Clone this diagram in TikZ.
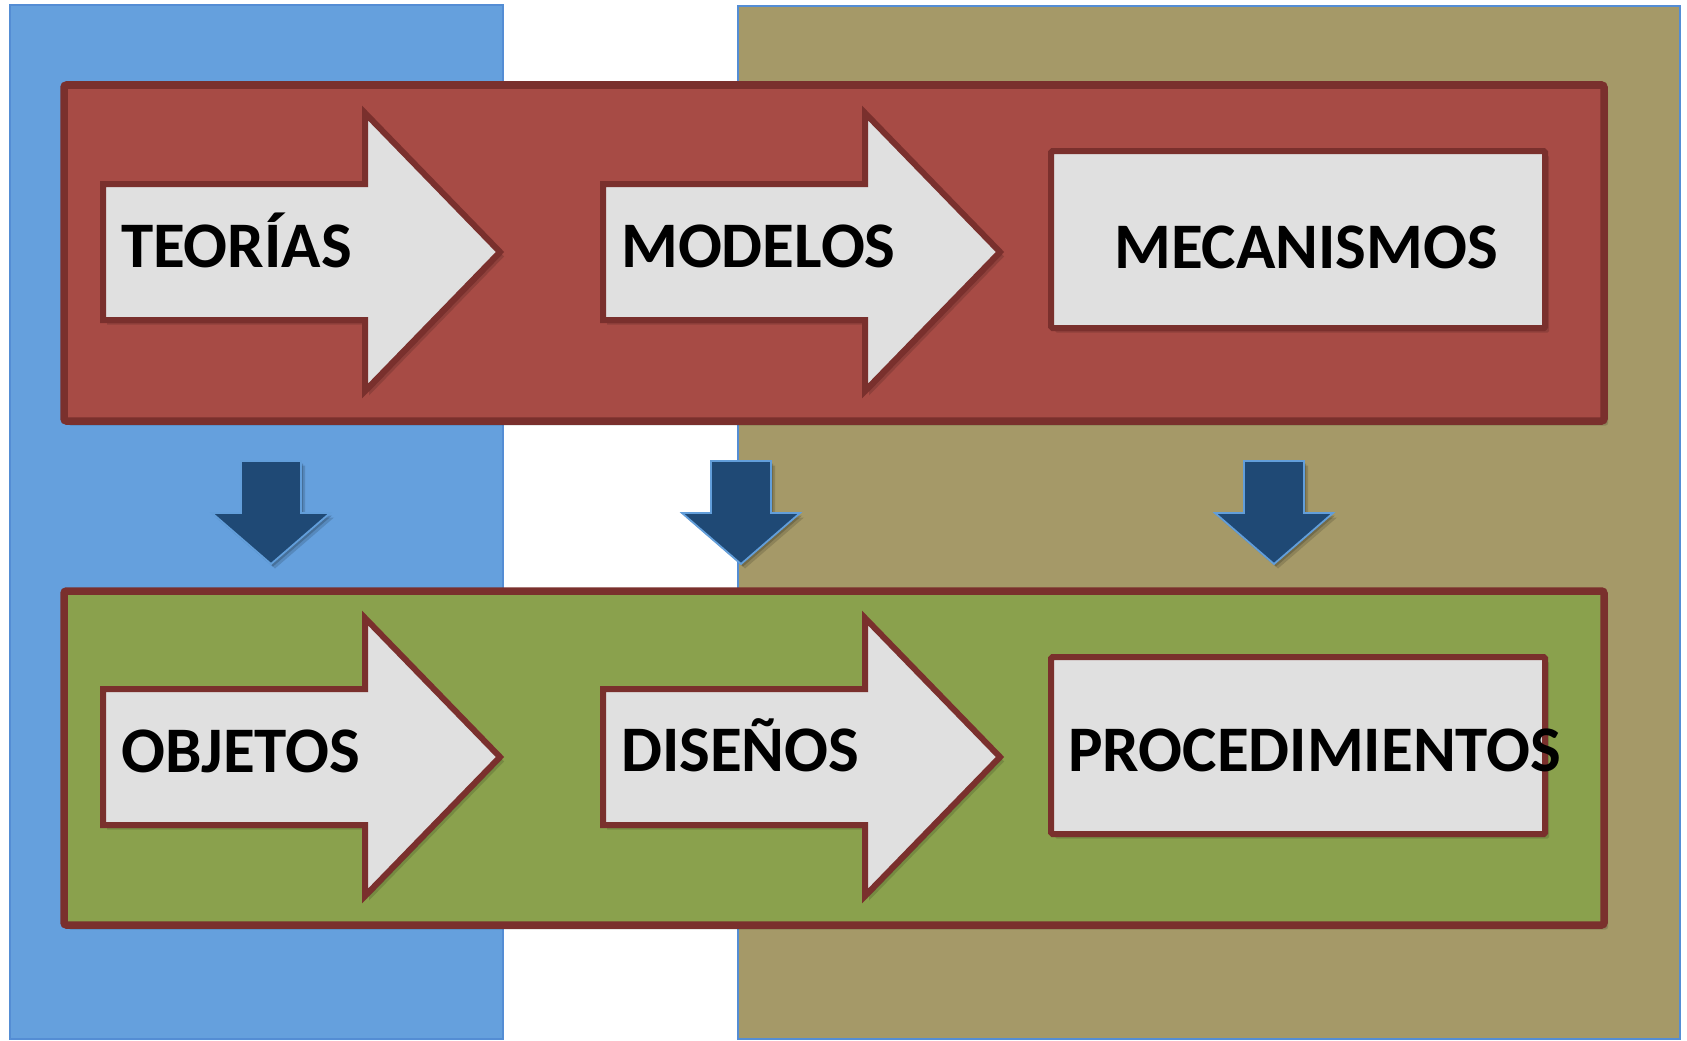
\documentclass[tikz,border=0pt]{standalone}
\usepackage{fontspec}
\setmainfont{Carlito}
\definecolor{bgblue}{RGB}{101,160,221}
\definecolor{bgblueline}{RGB}{84,141,212}
\definecolor{khaki}{RGB}{165,153,104}
\definecolor{redfill}{RGB}{167,75,69}
\definecolor{redline}{RGB}{122,48,45}
\definecolor{greenfill}{RGB}{138,161,77}
\definecolor{boxgray}{RGB}{224,224,224}
\definecolor{darkblue}{RGB}{31,73,117}
\definecolor{arrowline}{RGB}{98,158,218}
\begin{document}
\begin{tikzpicture}[x=1pt,y=-1pt,
  softshadow/.style={
    preaction={fill=black,opacity=0.14,transform canvas={shift={(4pt,-4.5pt)}}},
    preaction={fill=black,opacity=0.18,transform canvas={shift={(2pt,-2.5pt)}}}},
  panel/.style={draw=redline,line width=7.5pt,rounded corners=2.5pt,softshadow,
    inner sep=0pt,minimum width=1540pt},
  textbox/.style={draw=redline,line width=6pt,fill=boxgray,rounded corners=1.5pt,
    softshadow,inner sep=0pt,minimum width=494pt,minimum height=177pt},
  label/.style={anchor=base west,inner sep=0pt,text=black,
    font=\fontsize{65}{78}\selectfont\bfseries},
  rblock/.pic={
    \draw[draw=redline,line width=6pt,fill=boxgray,line join=miter,softshadow]
      (0,-68) -- (262,-68) -- (262,-139) -- (397,0) -- (262,139) -- (262,68)
      -- (0,68) -- cycle;},
  dblock/.pic={
    \draw[draw=arrowline,line width=1.8pt,fill=darkblue,line join=miter,softshadow]
      (-30,0) -- (30,0) -- (30,52) -- (59,52) -- (0,103) -- (-59,52)
      -- (-30,52) -- cycle;}
]
\useasboundingbox (0,0) rectangle (1687,1041);
\fill[white] (0,0) rectangle (1687,1041);

% background columns
\path[fill=bgblue,draw=bgblueline,line width=1.2pt] (10,5) rectangle (503,1039);
\path[fill=khaki,draw=bgblueline,line width=1.2pt] (738,6) rectangle (1680,1039);

% panels
\node[panel,fill=redfill,minimum height=336pt] (toppanel) at (834,253) {};
\node[panel,fill=greenfill,minimum height=334pt] (botpanel) at (834,758) {};

% block arrows
\pic (a1) at (103,252) {rblock};
\pic (a2) at (603,252) {rblock};
\pic (b1) at (103,757) {rblock};
\pic (b2) at (603,757) {rblock};

% text boxes
\node[textbox] (mecbox) at (1298,239.5) {};
\node[textbox] (procbox) at (1298,745.5) {};

% labels
\node[label] (teorias) at (121,267) {TEORÍAS};
\node[label] (modelos) at (621,267) {MODELOS};
\node[label] (mecanismos) at (1114,268) {MECANISMOS};
\node[label] (objetos) at (121,772) {OBJETOS};
\node[label] (disenos) at (621,771) {DISEÑOS};
\node[label] (procedimientos) at (1068,771) {PROCEDIMIENTOS};

% down arrows
\pic (d1) at (271,461) {dblock};
\pic (d2) at (741,461) {dblock};
\pic (d3) at (1274,461) {dblock};
\end{tikzpicture}
\end{document}
